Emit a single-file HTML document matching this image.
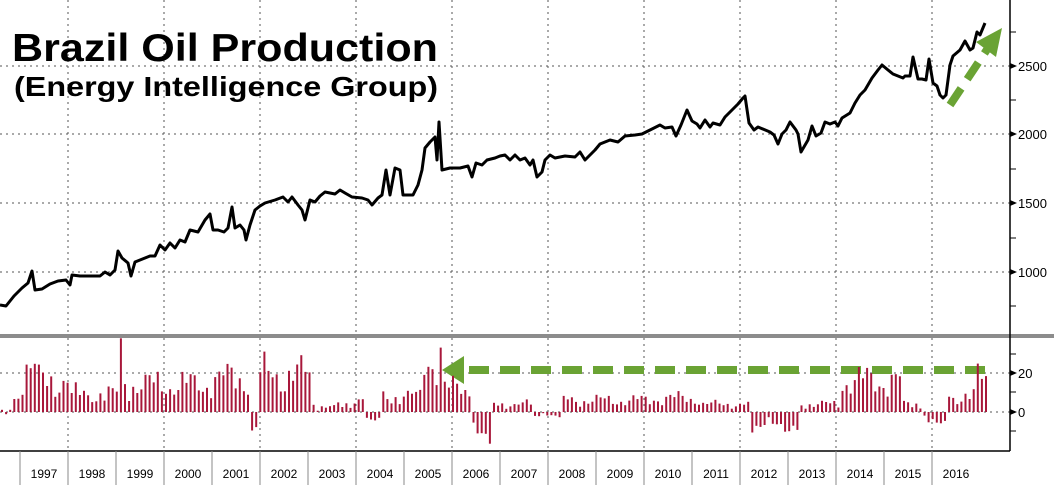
<!DOCTYPE html>
<html><head><meta charset="utf-8"><style>
html,body{margin:0;padding:0;background:#fff;}
svg{display:block;font-family:"Liberation Sans",sans-serif;}
</style></head><body>
<svg id="s" width="1054" height="485" viewBox="0 0 1054 485" xmlns="http://www.w3.org/2000/svg">
<rect width="1054" height="485" fill="#fff"/>
<g stroke="#555" stroke-width="1" stroke-dasharray="2,4">
<line x1="0" y1="66" x2="1010" y2="66"/><line x1="0" y1="134" x2="1010" y2="134"/>
<line x1="0" y1="203" x2="1010" y2="203"/><line x1="0" y1="272" x2="1010" y2="272"/>
<line x1="0" y1="373" x2="1010" y2="373"/><line x1="0" y1="412" x2="1010" y2="412"/>
</g>
<g id="vg" stroke="#555" stroke-width="1" stroke-dasharray="2,4"></g>
<text x="12" y="61" font-size="39" font-weight="bold" fill="#000" textLength="426" lengthAdjust="spacingAndGlyphs">Brazil Oil Production</text>
<text x="14" y="96" font-size="28" font-weight="bold" fill="#000" textLength="424" lengthAdjust="spacingAndGlyphs">(Energy Intelligence Group)</text>
<polyline fill="none" stroke="#000" stroke-width="3" stroke-linejoin="round" points="0,305 6,306 14,296 22,288 28,283 32,271 35,290 42,289 50,284 58,281 66,280 70,285 72,275 80,276 100,276 105,272 110,275 115,270 118,251 122,258 128,263 131,276 135,262 145,258 150,256 155,256 160,245 165,250 170,243 175,248 180,240 185,242 190,230 198,232 205,220 210,214 213,230 218,230 224,232 228,228 232,207 235,228 240,225 244,230 246,240 250,225 255,210 260,206 265,203 275,200 283,197 288,202 292,197 298,205 302,210 305,220 310,200 315,202 320,196 325,192 335,194 340,190 345,193 352,197 362,198 368,200 372,205 378,198 382,195 386,170 390,195 395,168 400,170 403,195 413,195 418,185 422,170 425,148 430,142 435,137 437,160 439,122 442,170 450,168 460,168 468,166 472,177 476,163 482,165 487,160 495,158 500,156 505,155 510,160 515,155 520,160 525,158 530,165 533,160 537,177 542,172 545,160 550,155 555,158 565,156 575,157 580,152 585,160 590,155 595,150 600,144 610,140 618,142 625,136 635,135 642,134 650,130 660,125 665,128 672,127 676,136 681,125 687,110 692,121 697,124 700,128 705,120 710,127 713,123 720,125 725,117 732,110 738,104 743,98 745,96 749,123 754,130 758,127 770,132 774,135 778,144 782,134 786,130 790,122 796,130 798,134 801,152 808,140 812,126 816,136 821,133 825,122 830,124 835,122 838,126 842,118 850,113 855,103 860,95 865,90 872,78 878,70 882,65 888,70 893,74 898,76 903,78 905,76 910,76 913,57 918,79 922,79 926,80 929,59 933,83 937,86 940,95 943,98 946,95 950,65 953,56 960,50 965,41 970,50 973,48 977,32 980,35 985,23"/>
<g stroke="#6aa334" stroke-width="8" fill="none" stroke-dasharray="20,11">
<line x1="950" y1="105" x2="988" y2="48"/>
<line x1="985" y1="370" x2="462" y2="370"/>
</g>
<polygon points="1002,28 976,42 996,57" fill="#6aa334"/>
<polygon points="442,370 464,356 464,384" fill="#6aa334"/>
<g id="bars" fill="#a8173a"></g>
<rect x="0" y="334" width="1054" height="4" fill="#8c8c8c"/>
<line x1="1010" y1="0" x2="1010" y2="451" stroke="#000" stroke-width="1.5"/>
<line x1="0" y1="451" x2="1010" y2="451" stroke="#000" stroke-width="1.5"/>
<g stroke="#000">
<line x1="1010" y1="32" x2="1016" y2="32"/><line x1="1010" y1="100" x2="1016" y2="100"/>
<line x1="1010" y1="169" x2="1016" y2="169"/><line x1="1010" y1="238" x2="1016" y2="238"/><line x1="1010" y1="306" x2="1016" y2="306"/>
<line x1="1010" y1="354" x2="1016" y2="354"/><line x1="1010" y1="392" x2="1016" y2="392"/><line x1="1010" y1="431" x2="1016" y2="431"/>
</g>
<g fill="#000"><polygon points="1010,63 1017,66 1010,69"/><polygon points="1010,131 1017,134 1010,137"/><polygon points="1010,200 1017,203 1010,206"/><polygon points="1010,269 1017,272 1010,275"/><polygon points="1010,370 1017,373 1010,376"/><polygon points="1010,409 1017,412 1010,415"/></g>
<g font-size="13" fill="#000">
<text x="1018" y="71">2500</text><text x="1018" y="139">2000</text><text x="1018" y="208">1500</text><text x="1018" y="277">1000</text>
<text x="1018" y="378">20</text><text x="1018" y="417">0</text>
</g>
<g id="yrs" font-size="12" fill="#000" text-anchor="middle"></g>
</svg>
<script>
var NS="http://www.w3.org/2000/svg";
function el(t,a,p){var e=document.createElementNS(NS,t);for(var k in a)e.setAttribute(k,a[k]);document.getElementById(p).appendChild(e);return e;}
for(var i=0;i<20;i++){var x=20+i*48;
 el('line',{x1:x,y1:451,x2:x,y2:485,stroke:'#888'},'yrs');
 var t=el('text',{x:x+24,y:478},'yrs');t.textContent=1997+i;
 if(i%2==1){el('line',{x1:x,y1:0,x2:x,y2:334},'vg');el('line',{x1:x,y1:338,x2:x,y2:451},'vg');}
}
var seg=[[0,10,0],[10,20,8],[20,35,22],[35,68,16],[68,118,9],[118,122,30],[122,165,14],[165,210,14],[210,250,17],[250,256,-8],[256,310,19],[310,350,3],[350,362,8],[362,380,-3],[380,420,8],[420,442,28],[442,470,12],[470,490,-10],[490,530,4],[530,560,-2],[560,650,6],[650,700,7],[700,748,4],[748,800,-7],[800,840,4],[840,900,16],[900,920,4],[920,945,-4],[945,975,8],[975,986,17]];
function val(x){for(var j=0;j<seg.length;j++)if(x>=seg[j][0]&&x<seg[j][1])return seg[j][2];return 0;}
for(var x=1;x<986;x+=4.1){var v=val(x);var jit=Math.sin(x*1.7)*0.35+Math.sin(x*0.53)*0.25;v=v*(1+jit)+Math.sin(x*2.3)*1.5;
 if(x>436&&x<440)v=33;var h=v*1.95;
 el('rect',{x:x.toFixed(1),y:(h>=0?412-h:412).toFixed(1),width:2,height:Math.max(1,Math.abs(h)).toFixed(1)},'bars');}
</script>
</body></html>
